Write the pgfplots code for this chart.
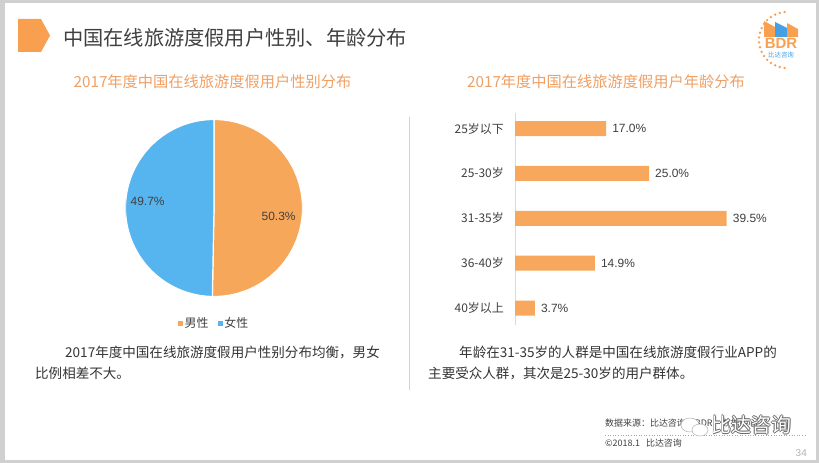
\documentclass[border=0pt]{standalone}
\usepackage{pgfplots}
\pgfplotsset{compat=1.18}
\usepackage{fontspec}
\setmainfont{Liberation Sans}
\newfontfamily\cjk{Noto Sans CJK SC}
\definecolor{pieorange}{RGB}{247,167,90}
\definecolor{pieblue}{RGB}{86,180,238}
\definecolor{barorange}{RGB}{247,168,92}
\definecolor{suborange}{RGB}{240,160,100}
\definecolor{tagorange}{RGB}{248,160,80}
\definecolor{txt}{RGB}{51,51,51}
\definecolor{lab}{RGB}{64,64,64}
\definecolor{frame}{RGB}{208,208,208}
\definecolor{logoblue}{RGB}{70,160,230}
\def\male{50.3}
\def\female{49.7}
\begin{document}
\begin{tikzpicture}[x=1bp,y=1bp]
\useasboundingbox (0,0) rectangle (819,463);
\fill[frame] (0,0) rectangle (819,463);
\fill[white] (5,3) rectangle (816,460);
% title tag
\fill[tagorange] (18,444) -- (41,444) -- (50,427.5) -- (41,411) -- (18,411) -- cycle;
\node[anchor=west, inner sep=0pt, text=lab, font=\cjk\fontsize{20.3}{24}\selectfont] at (63,425) {中国在线旅游度假用户性别、年龄分布};
% logo
\foreach \a in {95,105,...,265} \fill[tagorange] ({787+28*cos(\a)},{423+28*sin(\a)}) circle (1.3);
\fill[tagorange] (764,426) -- (764,442) -- (775,436) -- (775,426) -- cycle;
\fill[logoblue] (775,426) -- (775,441) -- (787,435) -- (787,426) -- cycle;
\fill[tagorange] (787,426) -- (787,440) -- (798,434) -- (798,426) -- cycle;
\node[inner sep=0pt, text=tagorange, font=\bfseries\fontsize{15}{15}\selectfont] at (781,420) {BDR};
\node[inner sep=0pt, text=logoblue, font=\cjk\fontsize{6.5}{7}\selectfont] at (781,408) {比达咨询};
% subtitles
\node[inner sep=0pt, text=suborange, font=\cjk\fontsize{15.3}{18}\selectfont] at (212.5,381) {2017年度中国在线旅游度假用户性别分布};
\node[inner sep=0pt, text=suborange, font=\cjk\fontsize{15.3}{18}\selectfont] at (606,381) {2017年度中国在线旅游度假用户年龄分布};
% divider
\draw[gray!35, line width=0.8bp] (409.5,346) -- (409.5,73);
% pie
\begin{axis}[at={(214bp,255bp)}, anchor=center, scale only axis, width=177bp, height=177bp,
  hide axis, xmin=-1, xmax=1, ymin=-1, ymax=1,
  legend style={at={(0.5,-0.15)}, anchor=center, draw=none, fill=none, legend columns=2,
    font=\cjk\fontsize{12}{14}\selectfont, text=lab, inner sep=0pt,
    /tikz/every even column/.append style={column sep=7bp}},
  legend image code/.code={\path[#1,draw=none] (0bp,-2.5bp) rectangle (5bp,2.5bp);},
  legend cell align=left]
\addplot[fill=pieorange, draw=white, line width=1.2bp, domain=90:{90-3.6*\male}, samples=150]
  ({cos(x)},{sin(x)}) -- (0,0) -- cycle;
\addlegendentry{男性}
\addplot[fill=pieblue, draw=white, line width=1.2bp, domain={90-3.6*\male}:-270, samples=150]
  ({cos(x)},{sin(x)}) -- (0,0) -- cycle;
\addlegendentry{女性}
\node[text=lab, font=\fontsize{12}{14}\selectfont] at (axis cs:0.73,-0.10) {50.3\%};
\node[text=lab, font=\fontsize{12}{14}\selectfont] at (axis cs:-0.75,0.07) {49.7\%};
\end{axis}
% bars
\begin{axis}[at={(515bp,350.2bp)}, anchor=north west, scale only axis, width=241.2bp, height=212.4bp,
  xbar, xmin=0, xmax=45, ymin=-0.35, ymax=4.38, y dir=reverse,
  axis x line=none, axis y line=left,
  y axis line style={-, draw=gray!30, line width=0.8bp},
  ytick={0,1,2,3,4},
  yticklabels={{25岁以下},{25-30岁},{31-35岁},{36-40岁},{40岁以上}},
  major tick length=0pt,
  yticklabel style={font=\cjk\fontsize{12}{14}\selectfont, text=lab, inner sep=0pt, xshift=-11bp},
  bar width=15bp,
  nodes near coords, point meta=explicit symbolic,
  every node near coord/.append style={anchor=west, inner sep=0pt, xshift=6bp, font=\fontsize{12}{14}\selectfont, text=lab}]
\addplot[fill=barorange, draw=none] coordinates {(17.0,0)[17.0\%] (25.0,1)[25.0\%] (39.5,2)[39.5\%] (14.9,3)[14.9\%] (3.7,4)[3.7\%]};
\end{axis}
% body texts
\begin{scope}[every node/.style={anchor=west, inner sep=0pt, text=txt, font=\cjk\fontsize{13.6}{16}\selectfont}]
\node at (65,111) {2017年度中国在线旅游度假用户性别分布均衡，男女};
\node at (35,90) {比例相差不大。};
\node at (459,111) {年龄在31-35岁的人群是中国在线旅游度假行业APP的};
\node at (428,90) {主要受众人群，其次是25-30岁的用户群体。};
\end{scope}
% source
\node[anchor=west, inner sep=0pt, text=lab, font=\cjk\fontsize{9}{10}\selectfont] at (605,40) {数据来源：比达咨询（BDR）数据中心};
\draw[gray!70, dotted, line width=0.6bp] (605,28) -- (807,28);
\node[anchor=west, inner sep=0pt, text=lab, font=\cjk\fontsize{9}{10}\selectfont] at (605,20) {©2018.1\hspace{6bp}比达咨询};
\node[anchor=east, inner sep=0pt, text=gray!60, font=\fontsize{10}{12}\selectfont] at (807,10) {34};
% watermark
\draw[gray!60, line width=0.5bp, fill=white] (690,38) ellipse (9 and 7);
\draw[gray!60, line width=0.5bp, fill=white] (700,33) ellipse (8 and 6);
\foreach \dx/\dy in {0.6/0,-0.6/0,0/0.6,0/-0.6}
  \node[inner sep=0pt, text=gray!80!black, font=\cjk\fontsize{20}{22}\selectfont] at (751.5+\dx,38+\dy) {比达咨询};
\node[inner sep=0pt, text=white, font=\cjk\fontsize{20}{22}\selectfont] at (751.5,38) {比达咨询};
\end{tikzpicture}
\end{document}
